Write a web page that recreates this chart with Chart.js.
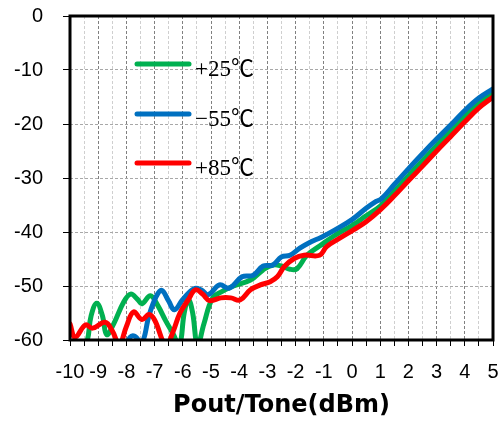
<!DOCTYPE html>
<html><head><meta charset="utf-8">
<script src="https://cdn.jsdelivr.net/npm/chart.js@4/dist/chart.umd.min.js"></script>
<style>html,body{margin:0;padding:0;background:#fff;}canvas{display:block;}</style>
</head><body>
<canvas id="c" width="499" height="423"></canvas>
<script>
// ---- data ----
const seriesNames = ['+25\u2103', '\u221255\u2103', '+85\u2103'];
const seriesColors = ['#00B050', '#0070C0', '#FF0000'];

const green25X = [-10, -9.45, -9.25, -9.05, -8.85, -8.7, -8.45, -8.1, -7.85, -7.6, -7.45, -7.15, -6.9, -6.6, -6.35, -6.12, -5.95, -5.8, -5.65, -5.48, -5.25, -4.95, -4.6, -4.2, -3.6, -3.15, -2.8, -2.5, -2.2, -1.95, -1.6, -1.15, -0.6, 0, 0.5, 1.0, 1.5, 2, 2.5, 3, 3.5, 4, 4.5, 5];
const green25Y = [-64, -61, -55.5, -53.2, -55.5, -59, -57, -53, -51.5, -52.5, -53.3, -51.8, -53.5, -56.5, -58.8, -61, -55, -52.5, -55, -61, -57, -52.3, -51, -50, -48.9, -47, -46.1, -46.3, -46.9, -46.8, -44.3, -42.6, -40.6, -38.8, -37.0, -35.2, -32.5, -29.6, -26.8, -24, -21.3, -18.6, -16.2, -14.3];

const blue55X = [-10, -8.1, -7.87, -7.7, -7.45, -7.2, -6.95, -6.75, -6.5, -6.3, -6.0, -5.6, -5.35, -5.1, -4.7, -4.35, -3.9, -3.5, -3.15, -2.8, -2.5, -2.2, -1.85, -1.45, -1.1, -0.6, 0, 0.5, 0.8, 1.05, 1.5, 2, 2.5, 3, 3.5, 4, 4.5, 5];
const blue55Y = [-64, -62, -59.5, -59.3, -60.5, -55.5, -52, -50.8, -52.8, -54.4, -52.5, -50.5, -50.7, -51.6, -49.8, -50.4, -48.3, -48.0, -46.3, -46.1, -44.6, -44.3, -43.0, -41.8, -41.0, -39.6, -37.7, -35.6, -34.5, -33.8, -31.2, -28.3, -25.5, -22.8, -20.2, -17.5, -15.2, -13.5];

const red85X = [-10, -9.82, -9.45, -9.2, -8.75, -8.5, -8.25, -8.0, -7.75, -7.45, -7.2, -7.0, -6.6, -6.35, -6.1, -5.8, -5.55, -5.3, -5.05, -4.65, -4.3, -3.97, -3.6, -3.25, -2.9, -2.65, -2.4, -2.05, -1.7, -1.15, -0.9, -0.45, 0.05, 0.5, 1.0, 1.5, 2, 2.5, 3, 3.5, 4, 4.5, 5];
const red85Y = [-57, -59.5, -57.2, -57.8, -56.7, -58.3, -60.8, -57.5, -54.8, -56.2, -55.3, -56.3, -61, -58.5, -55, -52.5, -50.7, -51.5, -52.7, -52.2, -52.2, -52.6, -50.7, -49.8, -49.2, -48.3, -46.4, -44.9, -44.3, -44.3, -42.7, -41.2, -39.6, -38.1, -35.9, -33.3, -30.5, -27.8, -25.0, -22.3, -19.6, -17.0, -15.0];

const xTickValues = [-10, -9, -8, -7, -6, -5, -4, -3, -2, -1, 0, 1, 2, 3, 4, 5];
const xTickLabels = ['-10', '-9', '-8', '-7', '-6', '-5', '-4', '-3', '-2', '-1', '0', '1', '2', '3', '4', '5'];
const yTickValues = [0, -10, -20, -30, -40, -50, -60];
const yTickLabels = ['0', '-10', '-20', '-30', '-40', '-50', '-60'];
const xTitle = 'Pout/Tone(dBm)';

// ---- build ----
function pts(xs, ys) { return xs.map((x, i) => ({ x: x, y: ys[i] })); }
const allX = [green25X, blue55X, red85X];
const allY = [green25Y, blue55Y, red85Y];
const drawOrder = [3, 2, 1];

const datasets = seriesNames.map((name, i) => ({
  label: name,
  data: pts(allX[i], allY[i]),
  borderColor: seriesColors[i],
  backgroundColor: seriesColors[i],
  borderWidth: 5,
  pointRadius: 0,
  tension: 0.4,
  borderCapStyle: 'round',
  borderJoinStyle: 'round',
  fill: false,
  order: drawOrder[i]
}));

const tickFont = { family: '"Liberation Sans", Arial, sans-serif', size: 20 };

const framePlugin = {
  id: 'frameAndLegend',
  afterDatasetsDraw(chart) {
    const { ctx, chartArea: a } = chart;
    ctx.save();
    ctx.strokeStyle = '#000';
    ctx.lineWidth = 3;
    ctx.strokeRect(a.left, a.top, a.right - a.left, a.bottom - a.top);
    // legend
    const rows = [48, 98, 147];
    ctx.lineCap = 'round';
    ctx.lineWidth = 5;
    ctx.font = '23px "Liberation Serif", "Noto Sans CJK SC", serif';
    ctx.textAlign = 'left';
    ctx.textBaseline = 'middle';
    chart.data.datasets.forEach((ds, i) => {
      const y = a.top + rows[i];
      ctx.strokeStyle = ds.borderColor;
      ctx.beginPath();
      ctx.moveTo(a.left + 67, y);
      ctx.lineTo(a.left + 119, y);
      ctx.stroke();
      ctx.fillStyle = '#000';
      ctx.fillText(ds.label, a.left + 125, y + 6);
    });
    ctx.restore();
  }
};

new Chart(document.getElementById('c'), {
  type: 'line',
  data: { datasets: datasets },
  options: {
    responsive: false,
    animation: false,
    devicePixelRatio: 1,
    layout: { padding: { top: 16, right: 6, left: 0, bottom: 0 } },
    plugins: { legend: { display: false }, tooltip: { enabled: false } },
    scales: {
      x: {
        type: 'linear',
        min: -10, max: 5,
        afterFit(s) { s.height = 83; s.paddingLeft = 0; s.paddingRight = 0; },
        ticks: {
          stepSize: 0.5,
          autoSkip: false,
          maxRotation: 0,
          padding: 14,
          color: '#000',
          font: tickFont,
          callback: (v) => { const k = xTickValues.indexOf(v); return k >= 0 ? xTickLabels[k] : ''; }
        },
        grid: {
          color: (c) => (c.tick && Number.isInteger(c.tick.value)) ? '#808080' : '#cfcfcf',
          lineWidth: 1,
          tickColor: '#000',
          tickLength: 6,
          tickWidth: 1
        },
        border: { display: false, dash: [3, 2] },
        title: {
          display: true,
          text: xTitle,
          color: '#000',
          font: { family: '"DejaVu Sans", sans-serif', weight: 'bold', size: 24 },
          padding: { top: 0, bottom: 3 }
        }
      },
      y: {
        type: 'linear',
        min: -60, max: 0,
        afterFit(s) { s.width = 70; s.paddingTop = 0; s.paddingBottom = 0; },
        ticks: {
          stepSize: 10,
          padding: 20,
          color: '#000',
          font: tickFont,
          callback: (v) => { const k = yTickValues.indexOf(v); return k >= 0 ? yTickLabels[k] : ''; }
        },
        grid: {
          color: '#a8a8a8',
          lineWidth: 1,
          tickColor: '#000',
          tickLength: 7,
          tickWidth: 1
        },
        border: { display: false, dash: [3, 2] }
      }
    }
  },
  plugins: [framePlugin]
});
</script>
</body></html>
